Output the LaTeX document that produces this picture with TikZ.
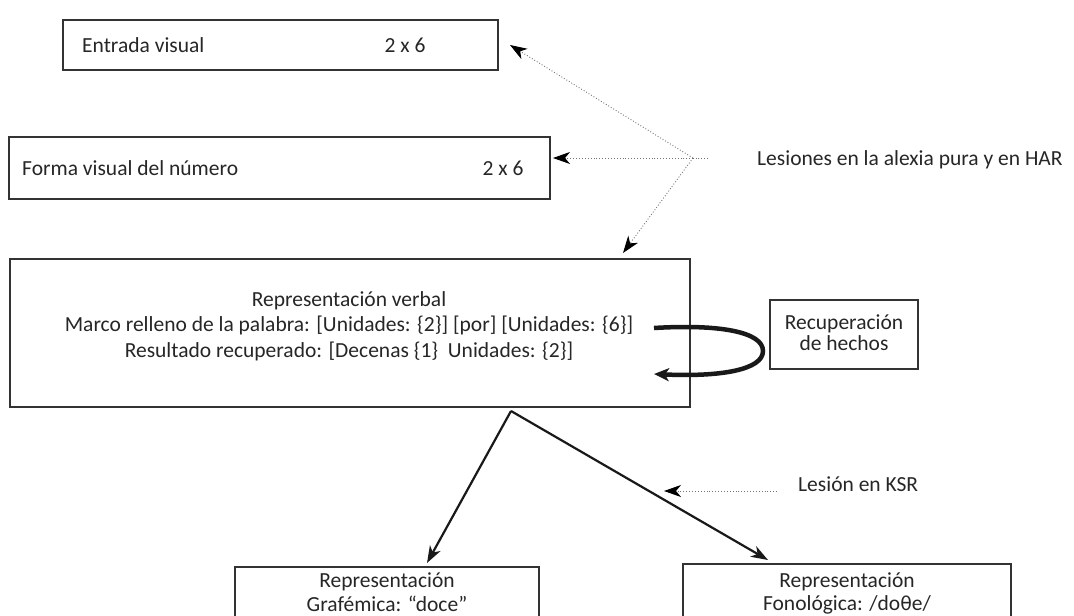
\documentclass[tikz,border=0pt]{standalone}
\usepackage{fontspec}
\setmainfont{Carlito}
\usetikzlibrary{arrows.meta,calc}
\begin{document}
\begin{tikzpicture}[x=1pt,y=-1pt,
  box/.style={draw=black!80, line width=1.1pt, inner sep=0pt, fill=none},
  txt/.style={font=\fontsize{21.5}{25}\selectfont, text=black!85, inner sep=0pt, anchor=base},
  txtw/.style={txt, anchor=base west},
  dotarr/.style={draw=black!55, dotted, line width=0.9pt, -{Stealth[length=17pt,width=12pt,inset=5pt,black]}},
  solarr/.style={draw=black!90, line width=2.2pt, -{Stealth[length=17pt,width=12pt,inset=5pt]}},
  looparr/.style={draw=black!90, line width=4.5pt, -{Stealth[length=15pt,width=13pt,inset=4pt]}},
]
\useasboundingbox (0,0) rectangle (1074,616);
\clip (0,0) rectangle (1074,616);

% boxes
\node[box, minimum width=435pt, minimum height=50pt] (entrada) at (280.5,45) {};
\node[box, minimum width=541pt, minimum height=62pt] (forma) at (279.5,168) {};
\node[box, minimum width=680pt, minimum height=148pt] (verbal) at (350,333) {};
\node[box, minimum width=148pt, minimum height=69pt] (recup) at (844,334.5) {};
\node[box, minimum width=304pt, minimum height=66pt] (graf) at (387,600) {};
\node[box, minimum width=328pt, minimum height=66pt] (fono) at (847,597) {};

% texts
\node[txtw] (t1) at (82,52) {Entrada visual};
\node[txt] (t2) at (405,52) {2 x 6};
\node[txtw] (t3) at (22,175) {Forma visual del número};
\node[txt] (t4) at (503,175) {2 x 6};
\node[txt] (t5) at (349,306) {Representación verbal};
\node[txt] (t6) at (349,331) {Marco relleno de la palabra: [Unidades: \{2\}] [por] [Unidades: \{6\}]};
\node[txt] (t7) at (349,357) {Resultado recuperado: [Decenas \{1\}\ \ Unidades: \{2\}]};
\node[txt] (t8) at (844,329) {Recuperación};
\node[txt] (t9) at (844,350) {de hechos};
\node[txt] (t10) at (387,587) {Representación};
\node[txt] (t11) at (387,611) {Grafémica: “doce”};
\node[txt] (t12) at (847,587) {Representación};
\node[txt] (t13) at (847,610) {Fonológica: /do{\fontspec{DejaVu Sans}\fontsize{19}{22}\selectfont θ}e/};
\node[txtw] (les1) at (757,165) {Lesiones en la alexia pura y en HAR};
\node[txtw] (les2) at (798,491) {Lesión en KSR};

% lesion arrows (dotted)
\coordinate (hub) at (693,158);
\coordinate (hubtail) at (708,158);
\coordinate (tipE) at (510,45);
\coordinate (tipF) at (553,158);
\coordinate (tipV) at (623,253);
\draw[draw=black!55, dotted, line width=0.9pt] (hubtail) -- (hub);
\draw[dotarr] (hub) -- (tipE);
\draw[dotarr] (hub) -- (tipF);
\draw[dotarr] (hub) -- (tipV);

\coordinate (ksrtail) at (777,491);
\coordinate (ksrtip) at (664,491);
\draw[dotarr] (ksrtail) -- (ksrtip);

% retrieval loop
\coordinate (loopA) at (654,328);
\coordinate (loopB) at (654,374);
\draw[looparr] (loopA) .. controls (720,324) and (763,332) .. (763,351)
  .. controls (763,370) and (720,377) .. (loopB);

% output arrows
\coordinate (junc) at (511,411);
\coordinate (tipG) at (427,563);
\coordinate (tipP) at (768,560);
\draw[solarr] (junc) -- (tipG);
\draw[solarr] (junc) -- (tipP);
\end{tikzpicture}
\end{document}
